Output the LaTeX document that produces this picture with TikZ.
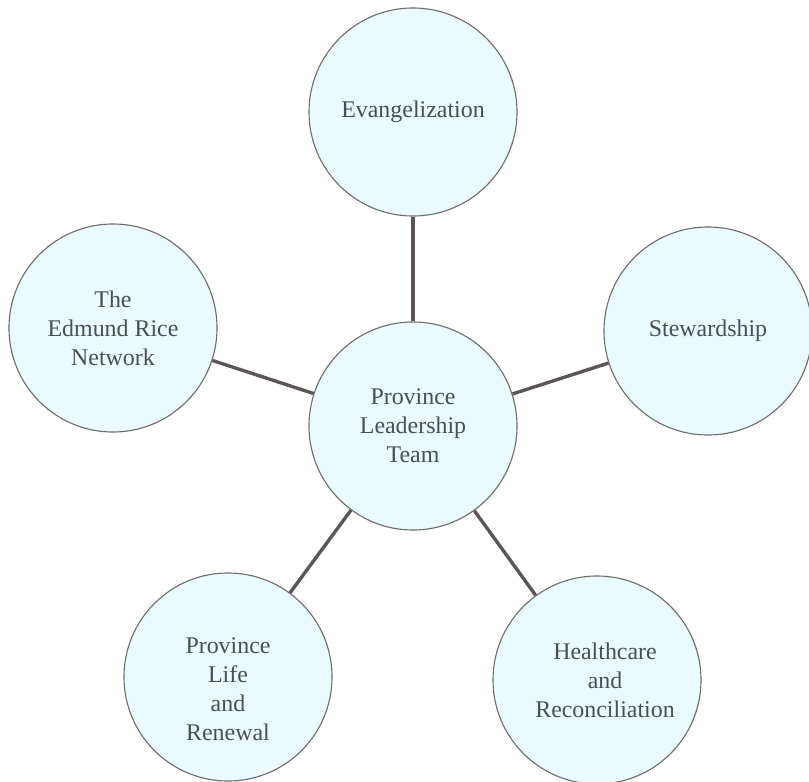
\documentclass[tikz,border=0pt]{standalone}
\usepackage{fontspec}
\setmainfont{Liberation Serif}

\definecolor{hubfill}{HTML}{EAFBFD}
\definecolor{hubline}{HTML}{6E6E6E}
\definecolor{linkcol}{HTML}{5B5555}
\definecolor{textcol}{HTML}{485050}

\begin{document}
\begin{tikzpicture}[x=0.025cm,y=-0.025cm,
    hubtext/.style={align=center, text=textcol,
      font=\fontsize{17}{20.5}\selectfont},
    hub/.style={circle, draw=hubline, line width=0.8pt, fill=hubfill,
      minimum size=5.2cm, inner sep=0pt, hubtext},
    link/.style={draw=linkcol, line width=2.4pt}]
\useasboundingbox (0,0) rectangle (809,782);
  \node[hub] (plt)    at (413,426) {Province\\Leadership\\Team};
  \node[hub] (evan)   at (413,112) {Evangelization};
  \node[hub] (erice)  at (113,328) {The\\Edmund Rice\\Network};
  \node[hub] (stew)   at (708,331) {Stewardship};
  \node[hub, label={[hubtext, yshift=-0.3cm]center:Province\\Life\\and\\Renewal}]
    (life) at (228,677) {};
  \node[hub, label={[hubtext, xshift=0.2cm]center:Healthcare\\and\\Reconciliation}]
    (health) at (597,680) {};
  \foreach \n in {evan,erice,stew,life,health}
	{ \draw[link] (plt) -- (\n); }
\end{tikzpicture}
\end{document}
